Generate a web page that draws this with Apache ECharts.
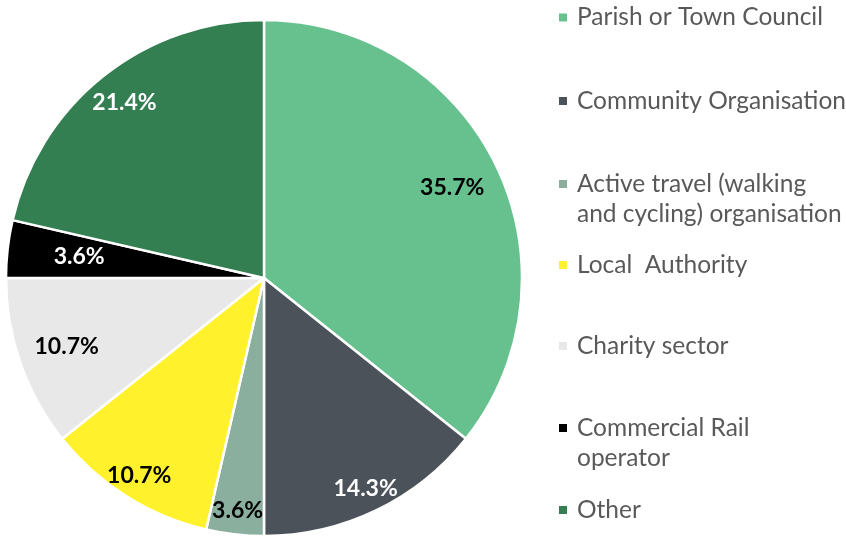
<!DOCTYPE html>
<html><head><meta charset="utf-8">
<script src="https://cdn.jsdelivr.net/npm/echarts@6/dist/echarts.min.js"></script>
<style>html,body{margin:0;padding:0;background:#fff}#c{width:846px;height:538px}</style>
</head><body><div id="c"></div>
<script>
const categories = ['Parish or Town Council','Community Organisation','Active travel (walking and cycling) organisation','Local  Authority','Charity sector','Commercial Rail operator','Other'];
const legendLabels = ['Parish or Town Council','Community Organisation','Active travel (walking\nand cycling) organisation','Local  Authority','Charity sector','Commercial Rail\noperator','Other'];
const shares = [35.7,14.3,3.6,10.7,10.7,3.6,21.4];
const sliceColors = ['#66C18E','#4B525A','#8AAF9F','#FFF22C','#E8E8E8','#000000','#337F52'];
const labelColors = ['#000000','#ffffff','#000000','#000000','#000000','#ffffff','#ffffff'];

// styling / layout
const FONT = 'Lato';
const CX = 264, CY = 278, R = 258;
const labelRing = [1,3,3,3,1,0,2];
const ringMid = [183, 206, 221, 231];
const legendIconY = [17.5,101,184,265,346,428,510];
const LH = 30;

const mainData = categories.map((n,i)=>({name:n, value:shares[i], itemStyle:{color:sliceColors[i]}}));
const series = [{
  type:'pie', center:[CX,CY], radius:[0,R], startAngle:90, clockwise:true,
  silent:true, label:{show:false}, labelLine:{show:false},
  itemStyle:{borderColor:'#ffffff', borderWidth:2.5},
  data: mainData
}];
ringMid.forEach((m,ri)=>{
  series.push({
    type:'pie', center:[CX,CY], radius:[m-40,m+40], startAngle:90, clockwise:true,
    silent:true, labelLine:{show:false}, avoidLabelOverlap:false,
    itemStyle:{color:'rgba(0,0,0,0)', borderWidth:0},
    emphasis:{disabled:true},
    data: categories.map((n,i)=>({name:n, value:shares[i],
      itemStyle:{color:'rgba(0,0,0,0)'},
      label:{show: labelRing[i]===ri, position:'inside', formatter:'{c}%',
             color:labelColors[i], fontFamily:FONT, fontWeight:'bold', fontSize:23}}))
  });
});

const legends = categories.map((n,i)=>{
  const multi = legendLabels[i].indexOf('\n')>=0;
  const txt = multi ? '\n'+legendLabels[i] : legendLabels[i];
  const H = multi ? 3*LH : LH;
  return {
    show:true, data:[n], orient:'vertical', left:557, top: legendIconY[i]-H/2,
    padding:0, icon:'rect', itemWidth:10, itemHeight:10, selectedMode:false,
    formatter: ()=>txt,
    textStyle:{fontFamily:FONT, fontSize:24.5, color:'#595959', lineHeight:LH, padding:[0,0,0,4]}
  };
});

const chart = echarts.init(document.getElementById('c'));
chart.setOption({animation:false, backgroundColor:'#ffffff', legend:legends, series:series});
</script></body></html>
